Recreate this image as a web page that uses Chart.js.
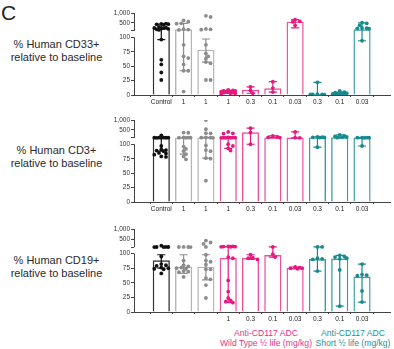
<!DOCTYPE html>
<html lang="en">
<head>
<meta charset="UTF-8" />
<title>Human CD33+ / CD3+ / CD19+ relative to baseline</title>
<script src="https://cdn.jsdelivr.net/npm/chart.js"></script>
<style>
  body { margin: 0; background: #fff; font-family: "Liberation Sans", Arial, sans-serif; }
  #wrap { position: relative; width: 394px; height: 349px; overflow: hidden; }
  .letter { position: absolute; left: 1px; top: 2px; font-size: 21px; line-height: 21px; color: #222; }
  .ylab { position: absolute; left: 0; width: 113px; text-align: center; font-size: 11px; line-height: 13.5px; color: #2a2a2a; white-space: nowrap; }
  canvas { position: absolute; left: 94px; }
  .grp { position: absolute; top: 328px; text-align: center; font-size: 8.6px; line-height: 10px; white-space: nowrap; }
</style>
</head>
<body>
<div id="wrap">
  <div class="letter">C</div>

  <div class="ylab" style="top:37.7px">% Human CD33+<br>relative to baseline</div>
  <div class="ylab" style="top:143.7px">% Human CD3+<br>relative to baseline</div>
  <div class="ylab" style="top:253.7px">% Human CD19+<br>relative to baseline</div>

  <canvas id="cd33" width="300" height="102" style="top:7px"></canvas>
  <canvas id="cd3" width="300" height="102" style="top:114px"></canvas>
  <canvas id="cd19" width="300" height="103" style="top:223px"></canvas>

  <div class="grp" style="left:206px;width:120px;color:#e6338c">Anti-CD117 ADC<br>Wild Type &frac12; life (mg/kg)</div>
  <div class="grp" style="left:313px;width:80px;color:#1c9297">Anti-CD117 ADC<br>Short &frac12; life (mg/kg)</div>
</div>

<script>
  // groups along x (mg/kg)
  const groups = ['Control', '1', '1', '1', '0.3', '0.1', '0.03', '0.3', '0.1', '0.03'];
  const groupsCD19 = ['', '', '', '1', '0.3', '0.1', '0.03', '0.3', '0.1', '0.03'];

  // y ticks on the broken axis: lower segment 0-100, upper segment 100-1000
  const yTickValues = [0, 25, 50, 75, 100, 100, 500, 1000];
  const yTickUpper  = [false, false, false, false, false, true, true, true];
  const yTickLabels = ['0', '25', '50', '75', '100', '', '500', '1,000'];

  // % Human CD33+
  const cd33Points = [
    [450, 470, 430, 440, 410, 300, 270, 250, 220, 200, 240, 180, 150, 96, 61, 53, 39, 26],
    [630, 560, 480, 465, 190, 170, 150, 87, 67, 64, 53, 42, 42, 6],
    [860, 800, 200, 180, 165, 87, 72, 67, 63, 57, 55, 26, 26],
    [9, 8, 7, 7, 6, 6, 5, 5, 4, 4, 3, 3, 2],
    [14, 8, 3],
    [23, 12, 5],
    [660, 580, 550, 380],
    [22, 1.5, 1, 1, 0.5, 1],
    [7, 5, 4, 3, 3, 2, 2, 1, 1, 0.5],
    [520, 480, 380, 250, 240, 230, 215, 94]
  ];
  const cd33Bars = [230, 165, 78, 5, 8.5, 11, 550, 1, 3, 165];
  const cd33Low  = [96, 42, 57, 3, 3, 5, 250, 0, 1, 94];
  const cd33High = [440, 480, 97, 8, 14, 23, 665, 22, 5, 500];

  // % Human CD3+
  const cd3Points = [
    [230, 120, 115, 112, 110, 108, 105, 103, 97, 91, 90, 89, 88, 85, 84, 82, 79, 78],
    [370, 360, 130, 120, 115, 110, 105, 96, 92, 88, 83, 79, 74],
    [1000, 540, 340, 330, 130, 120, 110, 105, 98, 90, 88, 76, 75, 37],
    [400, 330, 320, 130, 120, 115, 110, 108, 105, 103, 100, 97, 93, 89],
    [590, 370, 100],
    [200, 150, 130, 120],
    [400, 110, 105],
    [150, 140, 130, 125, 120, 95],
    [250, 200, 180, 150, 130, 110],
    [120, 115, 110, 108, 105, 97]
  ];
  const cd3Bars = [104, 105, 105, 105, 365, 110, 105, 110, 115, 105];
  const cd3Low  = [88, 83, 76, 93, 100, 110, 105, 95, 110, 97];
  const cd3High = [115, 120, 130, 130, 590, 200, 400, 150, 250, 115];

  // % Human CD19+
  const cd19Points = [
    [175, 110, 108, 106, 104, 102, 95, 82, 80, 79, 76, 75, 74, 73, 66],
    [110, 108, 106, 104, 88, 80, 78, 76, 75, 74, 70, 69, 68, 60],
    [425, 330, 260, 110, 98, 88, 86, 81, 73, 73, 58, 56, 46, 24],
    [140, 135, 130, 125, 120, 115, 94, 92, 54, 35, 24, 20, 18, 16],
    [98, 93, 92, 90],
    [110, 99, 94],
    [77, 76, 75, 75, 74],
    [110, 110, 92, 91, 90, 70],
    [97, 95, 94, 92, 91, 72, 10],
    [82, 64, 63, 62, 36, 17]
  ];
  const cd19Bars = [88, 77, 77, 92, 92, 97, 75, 90, 91, 60];
  const cd19Low  = [75, 66, 55, 16, 90, 94, 74, 70, 10, 17];
  const cd19High = [98, 98, 98, 110, 98, 110, 77, 110, 97, 82];

  const PINK = '#e5197f', TEAL = '#178a8f';
  const dotColors = ['#111', '#8c8c8c', '#8c8c8c', PINK, PINK, PINK, PINK, TEAL, TEAL, TEAL];
  const barColors = ['#333', '#b4b4b4', '#b4b4b4', '#ec4f9c', '#ec4f9c', '#ec4f9c', '#ec4f9c', '#3b9ea4', '#3b9ea4', '#3b9ea4'];

  Chart.defaults.font.family = "'Liberation Sans', Arial, sans-serif";

  // axis break: values above 100 go to a compressed segment after a small gap
  const GAP = 11, UPPER = 0.0345;
  function brk(v, upper) {
    if (v <= 100 && !upper) return v;
    return 100 + GAP + (v - 100) * UPPER;
  }
  const Y_MAX = brk(1000);

  // simple beeswarm so dots with similar values sit side by side
  const PX_X = 24.8, PX_Y = 0.58, DOT = 3.4, STEP = 2.6;
  function swarm(vals, gi) {
    const placed = [];
    return vals.map(v => {
      const yy = brk(v) * PX_Y;
      let pick = 0, bestD = -1;
      for (const s of [0, 1, -1, 2, -2, 3, -3]) {
        const dx = s * STEP;
        let d = Infinity;
        placed.forEach(p => { d = Math.min(d, Math.hypot(p.dx - dx, p.yy - yy)); });
        if (d >= DOT) { pick = dx; bestD = d; break; }
        if (d > bestD) { bestD = d; pick = dx; }
      }
      placed.push({ dx: pick, yy: yy });
      return { x: gi + pick / PX_X, y: brk(v) };
    });
  }

  const errorBars = {
    id: 'errorBars',
    afterDatasetsDraw(chart, args, opts) {
      const ctx = chart.ctx, xs = chart.scales.x, ys = chart.scales.y;
      ctx.save();
      ctx.lineWidth = 1.2;
      opts.low.forEach((lo, i) => {
        const x = xs.getPixelForValue(i);
        const y1 = ys.getPixelForValue(brk(lo));
        const y2 = ys.getPixelForValue(brk(opts.high[i]));
        ctx.strokeStyle = dotColors[i];
        ctx.beginPath();
        ctx.moveTo(x, y1); ctx.lineTo(x, y2);
        ctx.moveTo(x - 4, y1); ctx.lineTo(x + 4, y1);
        ctx.moveTo(x - 4, y2); ctx.lineTo(x + 4, y2);
        ctx.stroke();
      });
      ctx.restore();
    }
  };

  // y axis line drawn in two pieces around the break
  const brokenAxis = {
    id: 'brokenAxis',
    afterDraw(chart) {
      const ctx = chart.ctx, ys = chart.scales.y;
      const x = Math.floor(chart.chartArea.left) + 0.5;
      ctx.save();
      ctx.strokeStyle = '#444';
      ctx.lineWidth = 1;
      ctx.beginPath();
      ctx.moveTo(x, ys.getPixelForValue(0));
      ctx.lineTo(x, ys.getPixelForValue(100));
      ctx.moveTo(x, ys.getPixelForValue(brk(100, true)));
      ctx.lineTo(x, ys.getPixelForValue(Y_MAX));
      ctx.stroke();
      ctx.restore();
    }
  };

  function makePanel(id, points, bars, low, high, labels) {
    const datasets = [{
      type: 'bar',
      data: bars.map((v, i) => ({ x: i, y: brk(v) })),
      backgroundColor: '#fff',
      borderColor: barColors,
      borderWidth: 1.4,
      borderSkipped: 'bottom',
      barThickness: 16.5,
      order: 3
    }];
    points.forEach((vals, i) => {
      datasets.push({
        type: 'scatter',
        data: swarm(vals, i),
        pointRadius: 1.9,
        pointBackgroundColor: dotColors[i],
        pointBorderWidth: 0,
        order: 1
      });
    });

    new Chart(document.getElementById(id), {
      type: 'bar',
      data: { datasets: datasets },
      plugins: [errorBars, brokenAxis],
      options: {
        responsive: false,
        animation: false,
        layout: { padding: { top: 6, right: 4, left: 0, bottom: 0 } },
        plugins: {
          legend: { display: false },
          tooltip: { enabled: false },
          errorBars: { low: low, high: high }
        },
        scales: {
          x: {
            type: 'linear',
            min: -0.65,
            max: 9.68,
            afterBuildTicks: s => { s.ticks = labels.map((_, i) => ({ value: i })); },
            afterFit: s => { s.height = 14; },
            ticks: {
              autoSkip: false, maxRotation: 0, padding: 1,
              color: '#222', font: { size: 6.5 },
              callback: (v, i) => labels[i]
            },
            grid: { drawOnChartArea: false, drawTicks: true, tickLength: 2, color: '#444' },
            border: { display: true, color: '#444', width: 1 }
          },
          y: {
            min: 0,
            max: Y_MAX,
            afterBuildTicks: s => {
              s.ticks = yTickValues.map((v, i) => ({ value: brk(v, yTickUpper[i]) }));
            },
            afterFit: s => { s.width = 40; },
            ticks: {
              autoSkip: false, padding: 1,
              color: '#333', font: { size: 6.5 },
              callback: (v, i) => yTickLabels[i]
            },
            grid: { drawOnChartArea: false, drawTicks: true, tickLength: 3, color: '#444' },
            border: { display: false }
          }
        }
      }
    });
  }

  makePanel('cd33', cd33Points, cd33Bars, cd33Low, cd33High, groups);
  makePanel('cd3', cd3Points, cd3Bars, cd3Low, cd3High, groups);
  makePanel('cd19', cd19Points, cd19Bars, cd19Low, cd19High, groupsCD19);
</script>
</body>
</html>
